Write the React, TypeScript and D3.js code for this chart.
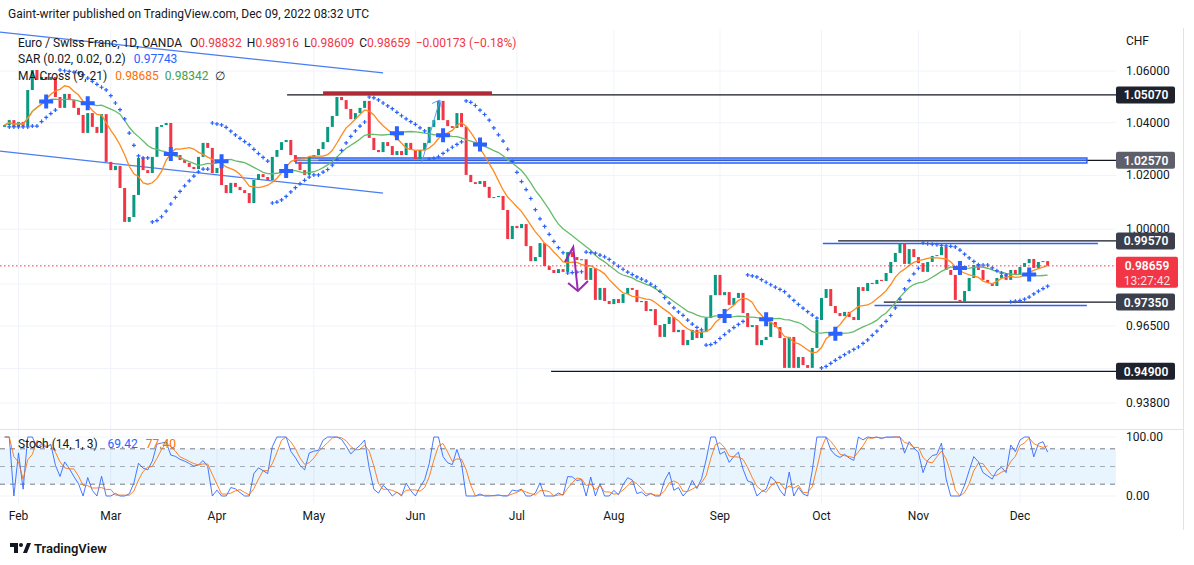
import React from 'react'
import * as d3 from 'd3'

// daily closes EUR/CHF, 27 Jan 2022 .. 9 Dec 2022
const firstOpen = 1.0384
const closes = [
    1.0391, 1.041, 1.0384, 1.0403, 1.0387, 1.0526, 1.0604, 1.0565, 1.0577, 1.0565,
    1.0577, 1.0499, 1.0457, 1.0511, 1.0487, 1.0457, 1.043, 1.0361, 1.0437, 1.0384,
    1.0361, 1.0433, 1.0251, 1.022, 1.0236, 1.0153, 1.0027, 1.0045, 1.0127, 1.0266,
    1.022, 1.0209, 1.027, 1.0384, 1.0391, 1.0399, 1.0285, 1.0277, 1.0258, 1.0247,
    1.0232, 1.0224, 1.027, 1.0323, 1.0304, 1.0209, 1.0228, 1.0164, 1.0134, 1.0172,
    1.0157, 1.0145, 1.0134, 1.0097, 1.0183, 1.0205, 1.0194, 1.0183, 1.027, 1.0296,
    1.0326, 1.0334, 1.0277, 1.0251, 1.022, 1.0202, 1.027, 1.0277, 1.03, 1.0326,
    1.0384, 1.0426, 1.0499, 1.0487, 1.0453, 1.0414, 1.0437, 1.0457, 1.0484, 1.0342,
    1.0296, 1.0288, 1.0326, 1.0311, 1.0277, 1.0292, 1.0277, 1.0323, 1.0296, 1.0262,
    1.0296, 1.0323, 1.0384, 1.041, 1.0484, 1.041, 1.0387, 1.038, 1.0437, 1.0384,
    1.0202, 1.0175, 1.0168, 1.0179, 1.0157, 1.0116, 1.0119, 1.0123, 1.0071, 0.9964,
    1.0012, 1.0004, 1.0019, 0.9938, 0.9883, 0.9898, 0.9949, 0.9865, 0.9851, 0.984,
    0.9854, 0.9844, 0.9916, 0.9898, 0.9887, 0.989, 0.9815, 0.9858, 0.9743, 0.9786,
    0.9739, 0.9728, 0.9746, 0.9732, 0.9764, 0.9786, 0.9779, 0.9735, 0.9739, 0.9703,
    0.971, 0.9653, 0.9611, 0.9657, 0.9682, 0.9628, 0.9636, 0.9582, 0.96, 0.9636,
    0.9607, 0.9628, 0.9678, 0.976, 0.9833, 0.976, 0.9771, 0.9725, 0.975, 0.9768,
    0.9696, 0.9646, 0.9653, 0.9582, 0.96, 0.9611, 0.9664, 0.9646, 0.9607, 0.9502,
    0.9611, 0.9502, 0.954, 0.9512, 0.9502, 0.9572, 0.9671, 0.975, 0.9782, 0.9721,
    0.9696, 0.9685, 0.97, 0.9682, 0.9671, 0.9789, 0.9775, 0.9804, 0.98, 0.9815,
    0.9811, 0.984, 0.988, 0.9913, 0.9949, 0.9873, 0.9927, 0.9898, 0.9876, 0.9844,
    0.988, 0.9902, 0.9905, 0.9935, 0.9851, 0.9833, 0.9743, 0.9736, 0.9775, 0.9822,
    0.9869, 0.9851, 0.9815, 0.9804, 0.9793, 0.9822, 0.9833, 0.9815, 0.9851, 0.9836,
    0.9862, 0.9876, 0.9891, 0.9858, 0.988, 0.98832, 0.98659,
]

const monthNames = ['Jan', 'Feb', 'Mar', 'Apr', 'May', 'Jun', 'Jul', 'Aug', 'Sep', 'Oct', 'Nov', 'Dec']
const gridPrices = [1.06, 1.04, 1.02, 1.0, 0.98, 0.965, 0.95, 0.938]
const labelPrices = [1.06, 1.04, 1.02, 1.0, 0.965, 0.938]

// horizontal drawings: price, start bar, label, label box colour
const levels = [
    { price: 1.0507, from: 61.2, label: '1.05070', box: '#1e222d' },
    { price: 1.0257, from: 63, label: '1.02570', box: '#5d606b' },
    { price: 0.9957, from: 180.6, label: '0.99570', box: '#3b3f4c' },
    { price: 0.9735, from: 190.5, label: '0.97350', box: '#3b3f4c' },
    { price: 0.949, from: 118.4, label: '0.94900', box: '#1e222d' },
]
const blueLevels = [
    { price: 0.99475, from: 177.3, to: 236.9 },
    { price: 0.97229, from: 188.5, to: 234.5 },
]
const blueZone = { top: 1.02657, bottom: 1.02468, from: 63.1, to: 234.5 }
const redZone = { top: 1.0521, bottom: 1.0507, from: 69, to: 105.6 }
const trendLines = [
    [{ i: -1, p: 1.0753 }, { i: 82, p: 1.0593 }],
    [{ i: -1, p: 1.0292 }, { i: 82, p: 1.0134 }],
]
const purpleArrow = [
    { i: 121.4, p: 0.988 }, { i: 123.2, p: 0.99347 }, { i: 124.2, p: 0.9775 },
]
const purpleHead = [
    { i: 122.1, p: 0.9804 }, { i: 124.2, p: 0.9775 }, { i: 126.4, p: 0.9811 },
]
const blueArrow = [{ i: 90.4, p: 1.0251 }, { i: 94.3, p: 1.0487 }]

const FONT = 'Roboto, "Noto Sans", sans-serif'
const UP = '#089981'
const DOWN = '#f23645'
const BLUE = '#2962ff'

// trading days (weekdays)
const days: Date[] = []
for (let t = Date.UTC(2022, 0, 27); t <= Date.UTC(2022, 11, 9); t += 86400000) {
    const d = new Date(t)
    if (d.getUTCDay() !== 0 && d.getUTCDay() !== 6) days.push(d)
}
const n = closes.length
const opens = closes.map((c, i) => (i === 0 ? firstOpen : closes[i - 1]))
const highs = closes.map((c, i) => Math.max(c, opens[i]))
const lows = closes.map((c, i) => Math.min(c, opens[i]))

const sma = (arr: number[], len: number) =>
    arr.map((_, i) => d3.mean(arr.slice(Math.max(0, i - len + 1), i + 1)) as number)

const ma9 = sma(closes, 9)
const ma21 = sma(closes, 21)

const crosses: { i: number; v: number }[] = []
for (let i = 1; i < n; i++) {
    if (Math.sign(ma9[i] - ma21[i]) !== Math.sign(ma9[i - 1] - ma21[i - 1])) crosses.push({ i, v: ma21[i] })
}

// parabolic SAR (0.02, 0.02, 0.2)
const sar: number[] = [NaN]
{
    let up = closes[1] >= closes[0]
    let af = 0.02
    let ep = up ? highs[0] : lows[0]
    let s = up ? lows[0] : highs[0]
    for (let i = 1; i < n; i++) {
        let next = s + af * (ep - s)
        if (up) {
            next = Math.min(next, lows[i - 1], lows[Math.max(0, i - 2)])
            if (lows[i] < next) {
                up = false; next = ep; ep = lows[i]; af = 0.02
            } else if (highs[i] > ep) {
                ep = highs[i]; af = Math.min(af + 0.02, 0.2)
            }
        } else {
            next = Math.max(next, highs[i - 1], highs[Math.max(0, i - 2)])
            if (highs[i] > next) {
                up = true; next = ep; ep = highs[i]; af = 0.02
            } else if (lows[i] < ep) {
                ep = lows[i]; af = Math.min(af + 0.02, 0.2)
            }
        }
        s = next
        sar.push(s)
    }
}

// stochastic (14, 1, 3)
const stochK = closes.map((c, i) => {
    const lo = d3.min(lows.slice(Math.max(0, i - 13), i + 1)) as number
    const hi = d3.max(highs.slice(Math.max(0, i - 13), i + 1)) as number
    return hi === lo ? 50 : (100 * (c - lo)) / (hi - lo)
})
const stochD = sma(stochK, 3)

const months = days
    .map((d, i) => ({ d, i }))
    .filter(({ d, i }) => i > 0 && d.getUTCMonth() !== days[i - 1].getUTCMonth())

const App: React.FC = () => {
    const width = 1194
    const height = 565
    const paneRight = 1116

    const x = d3.scaleLinear().domain([0, 226]).range([4.65, 4.65 + 226 * 4.615])
    const y = d3.scaleLog().domain([0.92905, 1.07613]).range([429, 30])
    const ys = d3.scaleLinear().domain([0, 100]).range([496, 437])

    const lineP = d3.line<{ i: number; p: number }>().x((d) => x(d.i)).y((d) => y(d.p))
    const maLine = d3.line<number>().x((_, i) => x(i)).y((d) => y(d))
    const stLine = d3.line<number>().x((_, i) => x(i)).y((d) => ys(d))
    const iRight = x.invert(paneRight)
    const last = closes[n - 1]

    return (
        <svg width={width} height={height} style={{ position: 'absolute', left: 0, top: 0, background: '#fff' }} fontFamily={FONT}>
            <defs>
                <clipPath id="main"><rect x={0} y={30} width={paneRight} height={399} /></clipPath>
                <clipPath id="stoch"><rect x={0} y={430} width={paneRight} height={73} /></clipPath>
            </defs>
            <text x={8} y={18} fontSize={12} fill="#131722">Gaint-writer published on TradingView.com, Dec 09, 2022 08:32 UTC</text>

            {/* grid */}
            {gridPrices.map((p) => (
                <line key={p} x1={0} x2={paneRight} y1={y(p)} y2={y(p)} stroke="#f0f3fa" />
            ))}
            {[0, 100].map((v) => (
                <line key={v} x1={0} x2={paneRight} y1={ys(v)} y2={ys(v)} stroke="#f0f3fa" />
            ))}
            {months.map(({ i }) => (
                <line key={i} x1={x(i)} x2={x(i)} y1={30} y2={503} stroke="#f0f3fa" />
            ))}
            <line x1={0} x2={1183} y1={429.5} y2={429.5} stroke="#e0e3eb" />
            <line x1={1183.5} x2={1183.5} y1={28} y2={530} stroke="#e0e3eb" />

            <g clipPath="url(#main)">
                {/* drawings below the candles */}
                {levels.map((l) => (
                    <line key={l.label} x1={x(l.from)} x2={paneRight} y1={y(l.price)} y2={y(l.price)} stroke="#131722" strokeWidth={1.2} />
                ))}
                <rect x={x(redZone.from)} width={x(redZone.to) - x(redZone.from)} y={y(redZone.top)}
                    height={y(redZone.bottom) - y(redZone.top)} fill="#b22833" />
                <rect x={x(blueZone.from)} width={x(blueZone.to) - x(blueZone.from)} y={y(blueZone.top)}
                    height={y(blueZone.bottom) - y(blueZone.top)} fill="#bbd6fb" fillOpacity={0.6} stroke={BLUE} strokeWidth={1.5} />
                <line x1={x(68)} x2={x(blueZone.to)} y1={y(1.0257)} y2={y(1.0257)} stroke="#3a5cc4" strokeWidth={1.5} />
                {blueLevels.map((l) => (
                    <line key={l.price} x1={x(l.from)} x2={x(l.to)} y1={y(l.price)} y2={y(l.price)} stroke={BLUE} strokeWidth={1.5} />
                ))}
                {trendLines.map((t, k) => (
                    <path key={k} d={lineP(t) || ''} stroke="#4a7cf3" strokeWidth={1.2} fill="none" />
                ))}

                {/* candles */}
                {closes.map((c, i) => {
                    const o = opens[i]
                    const top = y(Math.max(o, c))
                    const h = Math.max(1, y(Math.min(o, c)) - top)
                    return <rect key={i} x={x(i) - 1.5} y={top} width={3} height={h} fill={c >= o ? UP : DOWN} />
                })}

                <path d={maLine(ma21) || ''} stroke="#66bb6a" strokeWidth={1.3} fill="none" />
                <path d={maLine(ma9) || ''} stroke="#ff8a1f" strokeWidth={1.3} fill="none" />

                {sar.map((s, i) =>
                    Number.isFinite(s) ? (
                        <path key={i} d={`M${x(i) - 2},${y(s)}h4M${x(i)},${y(s) - 2}v4`} stroke={BLUE} strokeWidth={1.2} />
                    ) : null
                )}
                {crosses.map((c) => (
                    <path key={c.i} d={`M${x(c.i) - 7},${y(c.v)}h14M${x(c.i)},${y(c.v) - 7}v14`} stroke={BLUE} strokeWidth={4} />
                ))}

                <path d={lineP(blueArrow) || ''} stroke="#5b9cf6" strokeWidth={1} fill="none" />
                <path d={`M${x(92.6)},${y(1.0474)}L${x(94.3)},${y(1.0487)}L${x(94.6)},${y(1.0458)}`} stroke="#5b9cf6" fill="none" />
                <path d={lineP(purpleArrow) || ''} stroke="#9c27b0" strokeWidth={2} fill="none" />
                <path d={lineP(purpleHead) || ''} stroke="#9c27b0" strokeWidth={2} fill="none" />

                <line x1={0} x2={paneRight} y1={y(last)} y2={y(last)} stroke={DOWN} strokeDasharray="1.5,2.5" />
            </g>

            {/* stochastic pane */}
            <rect x={0} y={ys(80)} width={paneRight} height={ys(20) - ys(80)} fill="#2196f3" fillOpacity={0.1} />
            {[80, 50, 20].map((v) => (
                <line key={v} x1={0} x2={paneRight} y1={ys(v)} y2={ys(v)} stroke="#787b86" strokeOpacity={v === 50 ? 0.6 : 1} strokeDasharray="5,5" />
            ))}
            <g clipPath="url(#stoch)">
                <path d={stLine(stochK) || ''} stroke={BLUE} strokeWidth={1} fill="none" opacity={0.85} />
                <path d={stLine(stochD) || ''} stroke="#ff6d00" strokeWidth={1} fill="none" opacity={0.85} />
            </g>
            <text x={18} y={448} fontSize={12} fill="#131722">
                Stoch (14, 1, 3)
                <tspan dx={10} fill={BLUE}>69.42</tspan>
                <tspan dx={8} fill="#ff6d00">77.40</tspan>
            </text>

            {/* legend */}
            <text x={18} y={47} fontSize={12} fill="#131722">
                Euro / Swiss Franc, 1D, OANDA
                <tspan dx={8}>O</tspan><tspan fill={DOWN}>0.98832</tspan>
                <tspan dx={5}>H</tspan><tspan fill={DOWN}>0.98916</tspan>
                <tspan dx={5}>L</tspan><tspan fill={DOWN}>0.98609</tspan>
                <tspan dx={5}>C</tspan><tspan fill={DOWN}>0.98659</tspan>
                <tspan dx={5} fill={DOWN}>−0.00173 (−0.18%)</tspan>
            </text>
            <text x={18} y={63} fontSize={12} fill="#131722">
                SAR (0.02, 0.02, 0.2)<tspan dx={8} fill={BLUE}>0.97743</tspan>
            </text>
            <text x={18} y={80} fontSize={12} fill="#131722">
                MA Cross (9, 21)<tspan dx={8} fill="#ff6d00">0.98685</tspan>
                <tspan dx={6} fill="#43a047">0.98342</tspan>
                <tspan dx={6}>∅</tspan>
            </text>

            {/* price axis */}
            <text x={1126} y={45} fontSize={12} fill="#131722">CHF</text>
            {labelPrices.map((p) => (
                <text key={p} x={1126} y={y(p) + 4} fontSize={12} fill="#131722">{p.toFixed(5)}</text>
            ))}
            {levels.map((l) => (
                <g key={l.label}>
                    <rect x={paneRight} y={y(l.price) - 8.5} width={59} height={17} rx={2} fill={l.box} />
                    <text x={1146} y={y(l.price) + 4.5} fontSize={12} fill="#fff" textAnchor="middle" fontWeight={600}>{l.label}</text>
                </g>
            ))}
            <rect x={paneRight} y={y(last) - 9} width={62} height={31} rx={2} fill={DOWN} />
            <text x={1147} y={y(last) + 4.5} fontSize={12} fill="#fff" textAnchor="middle" fontWeight={600}>{last.toFixed(5)}</text>
            <text x={1147} y={y(last) + 19} fontSize={12} fill="#fff" fillOpacity={0.85} textAnchor="middle">13:27:42</text>
            <text x={1126} y={ys(100) + 4} fontSize={12} fill="#131722">100.00</text>
            <text x={1126} y={ys(0) + 4} fontSize={12} fill="#131722">0.00</text>

            {/* time axis */}
            {months.map(({ d, i }) => (
                <text key={i} x={x(i)} y={520} fontSize={12} fill="#131722" textAnchor="middle">
                    {monthNames[d.getUTCMonth()]}
                </text>
            ))}

            {/* logo */}
            <path d="M10,543h8v10h-4v-6h-4z" fill="#131722" />
            <circle cx={21} cy={545} r={2} fill="#131722" />
            <path d="M23,553l4,-10h4l-4,10z" fill="#131722" />
            <text x={34} y={553} fontSize={13} fontWeight={600} fill="#131722">TradingView</text>
        </svg>
    )
}

export default App
